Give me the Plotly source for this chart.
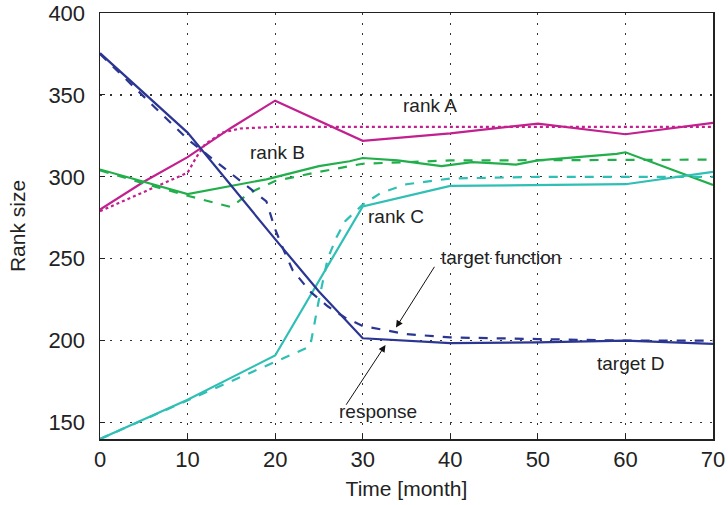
import plotly.graph_objects as go

# ---- data ----
a_resp_x = [0, 5, 10, 15, 20, 30, 40, 50, 60, 70]
a_resp_y = [280, 297, 312, 330, 346.5, 322, 326.5, 332.5, 326, 333]
a_targ_x = [0, 5, 10, 11, 12, 14, 16, 20, 30, 40, 50, 60, 70]
a_targ_y = [279, 291, 302.5, 312, 320, 327, 329.5, 330.5, 330.5, 330.5, 330.5, 330.5, 330.5]

b_resp_x = [0, 10, 19, 25, 28.5, 30, 34, 39, 42.5, 47.5, 50, 59, 60, 70]
b_resp_y = [304.5, 289.5, 298.5, 306.5, 309.5, 311.5, 310, 306.5, 309, 307.5, 310, 314, 315, 295]
b_targ_x = [0, 5, 10, 15, 17, 20, 25, 30, 40, 70]
b_targ_y = [304, 296, 288.5, 281.5, 290, 297.5, 303, 308, 310, 310.5]

c_resp_x = [0, 10, 20, 30, 40, 60, 70]
c_resp_y = [140, 164, 191, 282, 294.5, 295.5, 303]
c_targ_x = [0, 10, 20, 24, 25, 26, 27, 28, 30, 32, 35, 40, 50, 70]
c_targ_y = [140, 163.5, 187, 196.5, 225, 250, 263, 273, 283, 290, 295.5, 299, 300, 300]

d_resp_x = [0, 10, 20, 25, 30, 40, 50, 60, 70]
d_resp_y = [375.5, 327, 262, 230, 201.5, 198.5, 199, 200, 198]
d_targ_x = [0, 10, 19, 20, 21, 22, 24, 26, 28, 30, 35, 40, 50, 60, 70]
d_targ_y = [375, 323, 285, 268, 255, 243, 230, 221, 214, 209, 204, 202, 201, 200, 200]

x_ticks = [0, 10, 20, 30, 40, 50, 60, 70]
y_ticks = [150, 200, 250, 300, 350, 400]

col_a = "#C2208E"
col_b = "#22AF4B"
col_c = "#2FBFB4"
col_d = "#2B3592"

fig = go.Figure()

def add(x, y, color, dash):
    fig.add_trace(go.Scatter(x=x, y=y, mode="lines", line=dict(color=color, width=2.2, dash=dash),
                             showlegend=False, hoverinfo="skip"))

add(a_targ_x, a_targ_y, col_a, "dot")
add(a_resp_x, a_resp_y, col_a, "solid")
add(b_targ_x, b_targ_y, col_b, "dash")
add(b_resp_x, b_resp_y, col_b, "solid")
add(c_targ_x, c_targ_y, col_c, "dash")
add(c_resp_x, c_resp_y, col_c, "solid")
add(d_targ_x, d_targ_y, col_d, "dash")
add(d_resp_x, d_resp_y, col_d, "solid")

font = "Liberation Sans, Arial, sans-serif"
txtcol = "#222222"
lab = dict(color=txtcol, size=19, family=font)

for text, x, y in [("rank A", 37.7, 343.5), ("rank B", 20.3, 315), ("rank C", 33.8, 276),
                   ("target D", 60.6, 186), ("target function", 45.8, 251), ("response", 31.8, 156.5)]:
    fig.add_annotation(x=x, y=y, text=text, showarrow=False, font=lab, xanchor="center", yanchor="middle")

# arrows
fig.add_annotation(x=33.8, y=208, ax=38.3, ay=246, xref="x", yref="y", axref="x", ayref="y",
                   text="", showarrow=True, arrowhead=2, arrowsize=1.4, arrowwidth=1, arrowcolor="#111111")
fig.add_annotation(x=32.6, y=197.4, ax=28.0, ay=160, xref="x", yref="y", axref="x", ayref="y",
                   text="", showarrow=True, arrowhead=2, arrowsize=1.4, arrowwidth=1, arrowcolor="#111111")

axis_common = dict(showline=True, linecolor="#222222", linewidth=1.5, mirror=True,
                   showgrid=True, gridcolor="#333333", griddash="1.5px,8.5px", gridwidth=1.2,
                   ticks="inside", ticklen=5, tickcolor="#222222", zeroline=False, automargin=False,
                   ticklabeloverflow="allow",
                   tickfont=dict(size=22, color=txtcol, family=font))

fig.update_xaxes(range=[0, 70], tickvals=x_ticks, ticktext=[str(v) for v in x_ticks],
                 ticklabelstandoff=0,
                 title=dict(text="Time [month]", font=dict(size=21, color=txtcol, family=font), standoff=10),
                 **axis_common)
fig.update_yaxes(range=[140, 400], tickvals=y_ticks, ticktext=[str(v) for v in y_ticks],
                 ticklabelstandoff=9,
                 title=dict(text="Rank size", font=dict(size=21, color=txtcol, family=font), standoff=17),
                 **axis_common)

fig.update_layout(width=728, height=505, margin=dict(l=100, r=15, t=13, b=66),
                  plot_bgcolor="white", paper_bgcolor="white", font=dict(family=font))

# remove the page's default 8px body margin so the figure fills the window exactly
fig.write_html("out.html", config={"displayModeBar": False, "staticPlot": True},
               post_script="document.body.style.margin='0';document.body.style.overflow='hidden';")
